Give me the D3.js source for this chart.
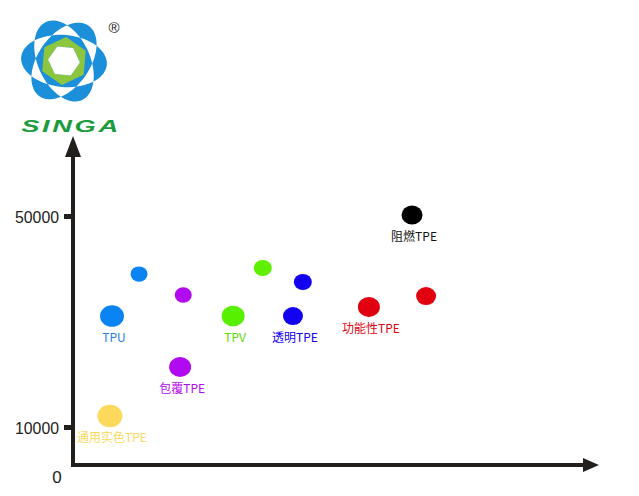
<!DOCTYPE html>
<html><head><meta charset="utf-8">
<script src="https://cdn.jsdelivr.net/npm/d3@7"></script>
<style>
html,body{margin:0;padding:0;background:#fff;}
svg{display:block;}
</style></head>
<body>
<script>
// ---- data ----
const names   = ["通用实色TPE","TPU","","","包覆TPE","TPV","","透明TPE","","功能性TPE","","阻燃TPE"];
const xValues = [7.1, 7.5, 12.7, 21.2, 20.6, 30.8, 36.5, 42.3, 44.2, 56.9, 67.9, 65.2];
const yValues = [12100, 31040, 39000, 35020, 21370, 31040, 40140, 31040, 37490, 32750, 34830, 50190];
const sizes   = [12.5, 12, 8.5, 8.5, 11, 11.5, 9, 10, 9, 11, 10, 10.5];
const colors  = ["#fcd95c","#0a84f2","#0a84f2","#b20af0","#b20af0","#57f000","#5ef000","#1200f0","#1200f0","#e0000f","#e0000f","#000000"];
const labelColors = ["#fcd95c","#2a80e6","","","#b20af0","#5ad800","","#1200f0","","#e0000f","","#111111"];
const yTicks = [10000, 50000];

const W = 639, H = 496;
const svg = d3.select("body").append("svg").attr("width", W).attr("height", H);

const x = d3.scaleLinear().domain([0, 100]).range([73, 593]);
const y = d3.scaleLinear().domain([10000, 50000]).range([427, 216]);
const r = d3.scaleLinear().domain([0, 1]).range([0, 1]);

const axisColor = "#221f1c";

// ---- logo ----
const logo = svg.append("g").attr("transform", "translate(64,61)");
function ellipsePath(rx, ry, rot) {
  const pts = d3.range(0, 361, 5).map(a => {
    const t = a * Math.PI / 180, c = Math.cos(rot), s = Math.sin(rot);
    const px = rx * Math.cos(t), py = ry * Math.sin(t);
    return [px * c - py * s, px * s + py * c];
  });
  return "M" + pts.map(p => p.join(",")).join("L") + "Z";
}
const ep = [5, 65, 125].map(a => ellipsePath(43, 26, a * Math.PI / 180)).join("");
logo.append("path").attr("d", ep).attr("fill", "#1b8fd9").attr("fill-rule", "evenodd");
function hexPath(rad, off) {
  return "M" + d3.range(6).map(i => {
    const a = (i * 60 + off) * Math.PI / 180;
    return [rad * Math.cos(a), rad * Math.sin(a)].join(",");
  }).join("L") + "Z";
}
logo.append("path").attr("d", hexPath(24, 35) + hexPath(16, 5)).attr("fill", "#8cc63f").attr("fill-rule", "evenodd");
logo.append("path").attr("d", hexPath(16, 5)).attr("fill", "#fff");
svg.append("text").attr("x", 114).attr("y", 33).attr("text-anchor", "middle")
  .attr("font-family", "Liberation Sans, Arial, sans-serif").attr("font-size", 15).attr("fill", "#222").text("®");
svg.append("text").attr("x", 0).attr("y", 0).attr("text-anchor", "middle")
  .attr("font-family", "Liberation Sans, Arial, sans-serif").attr("font-size", 21).attr("font-weight", "bold")
  .attr("font-style", "italic").attr("letter-spacing", 2).attr("fill", "#1a9b3c")
  .attr("transform", "translate(71,132) scale(1.3,0.8)").text("SINGA");

// ---- axes ----
const ax = svg.append("g");
ax.append("line").attr("x1", 73).attr("x2", 73).attr("y1", 465).attr("y2", 152)
  .attr("stroke", axisColor).attr("stroke-width", 4);
ax.append("path").attr("d", "M73,136 L81,157 L65,157 Z").attr("fill", axisColor);
ax.append("line").attr("x1", 71).attr("x2", 585).attr("y1", 465).attr("y2", 465)
  .attr("stroke", axisColor).attr("stroke-width", 4);
ax.append("path").attr("d", "M599,465 L583,458 L583,472 Z").attr("fill", axisColor);

const yAxis = d3.axisLeft(y).tickValues(yTicks).tickSize(9).tickPadding(5).tickFormat(d3.format("d"));
const ga = svg.append("g").attr("transform", "translate(73,0)").call(yAxis);
ga.select(".domain").remove();
ga.selectAll(".tick line").attr("stroke", axisColor).attr("stroke-width", 5);
ga.selectAll(".tick text").attr("font-family", "Liberation Sans, Arial, sans-serif")
  .attr("font-size", 17).attr("fill", "#222").attr("dy", "0.38em")
  .attr("textLength", 44).attr("lengthAdjust", "spacingAndGlyphs");
svg.append("text").attr("x", 57).attr("y", 483).attr("text-anchor", "middle")
  .attr("font-family", "Liberation Sans, Arial, sans-serif").attr("font-size", 17).attr("fill", "#222").text("0");

// ---- points ----
const data = names.map((n, i) => ({ n, x: xValues[i], y: yValues[i], s: sizes[i], c: colors[i], lc: labelColors[i] }));
svg.append("g").selectAll("ellipse").data(data).join("ellipse")
  .attr("cx", d => x(d.x)).attr("cy", d => y(d.y))
  .attr("rx", d => r(d.s)).attr("ry", d => r(d.s) * 0.9)
  .attr("fill", d => d.c);
svg.append("g").selectAll("text").data(data.filter(d => d.n)).join("text")
  .attr("x", d => x(d.x) + 2).attr("y", d => y(d.y) + 26)
  .attr("text-anchor", "middle")
  .attr("font-family", "Noto Sans CJK SC, sans-serif").attr("font-size", 12)
  .attr("fill", d => d.lc).text(d => d.n);
</script>
</body></html>
